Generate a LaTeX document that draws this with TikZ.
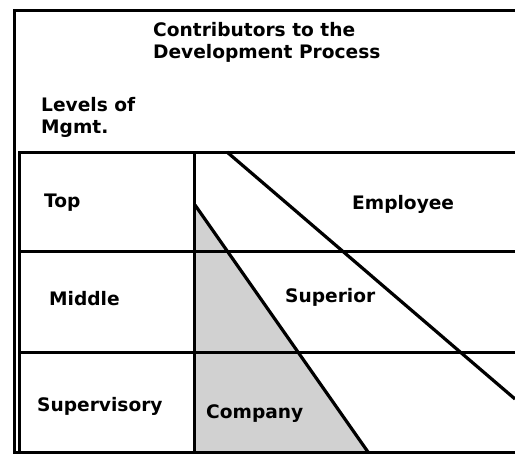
\documentclass[tikz,border=0pt]{standalone}
\usepackage{fontspec}
\setmainfont{DejaVu Sans}
\begin{document}
\begin{tikzpicture}[x=1pt,y=-1pt,
  rule/.style={line width=3pt,line cap=rect},
  diag/.style={line width=3.2pt},
  lbl/.style={inner sep=0pt,anchor=base west,font=\bfseries\fontsize{18.6}{21.5}\selectfont,align=left},
  shade/.style={fill=black!18}]
\useasboundingbox (0,0) rectangle (515,455);
% corner coordinates
\coordinate (ftl) at (14,10);
\coordinate (ftr) at (515,10);
\coordinate (fbl) at (14,452);
\coordinate (fbr) at (515,452);
\coordinate (ttl) at (19,152);
\coordinate (ttr) at (515,152);
\coordinate (tbl) at (19,452);
\coordinate (ct) at (194,152);
\coordinate (cb) at (194,452);
\coordinate (r1l) at (19,251);
\coordinate (r1r) at (515,251);
\coordinate (r2l) at (19,352);
\coordinate (r2r) at (515,352);
% diagonal end points
\coordinate (d1a) at (227,152);
\coordinate (d1b) at (515,399);
\coordinate (d2a) at (195,205);
\coordinate (d2b) at (368,452);
% shading
\fill[shade] (d2a) -- (d2b) -- (cb) -- cycle;
% frame
\draw[rule] (ftr) -- (ftl) -- (fbl) -- (fbr);
% table
\draw[rule] (ttr) -- (ttl) -- (tbl);
\draw[rule] (ct) -- (cb);
\draw[rule] (r1l) -- (r1r);
\draw[rule] (r2l) -- (r2r);
% diagonals
\draw[diag] (d1a) -- (d1b);
\draw[diag] (d2a) -- (d2b);
% labels
\node[lbl] (title) at (153,58) {Contributors to the\\Development Process};
\node[lbl] (levels) at (41,133) {Levels of\\Mgmt.};
\node[lbl] (top) at (44,207) {Top};
\node[lbl] (middle) at (49,305) {Middle};
\node[lbl] (sup) at (37,411) {Supervisory};
\node[lbl] (emp) at (352,209) {Employee};
\node[lbl] (supr) at (285,302) {Superior};
\node[lbl] (comp) at (206,418) {Company};
\end{tikzpicture}
\end{document}
